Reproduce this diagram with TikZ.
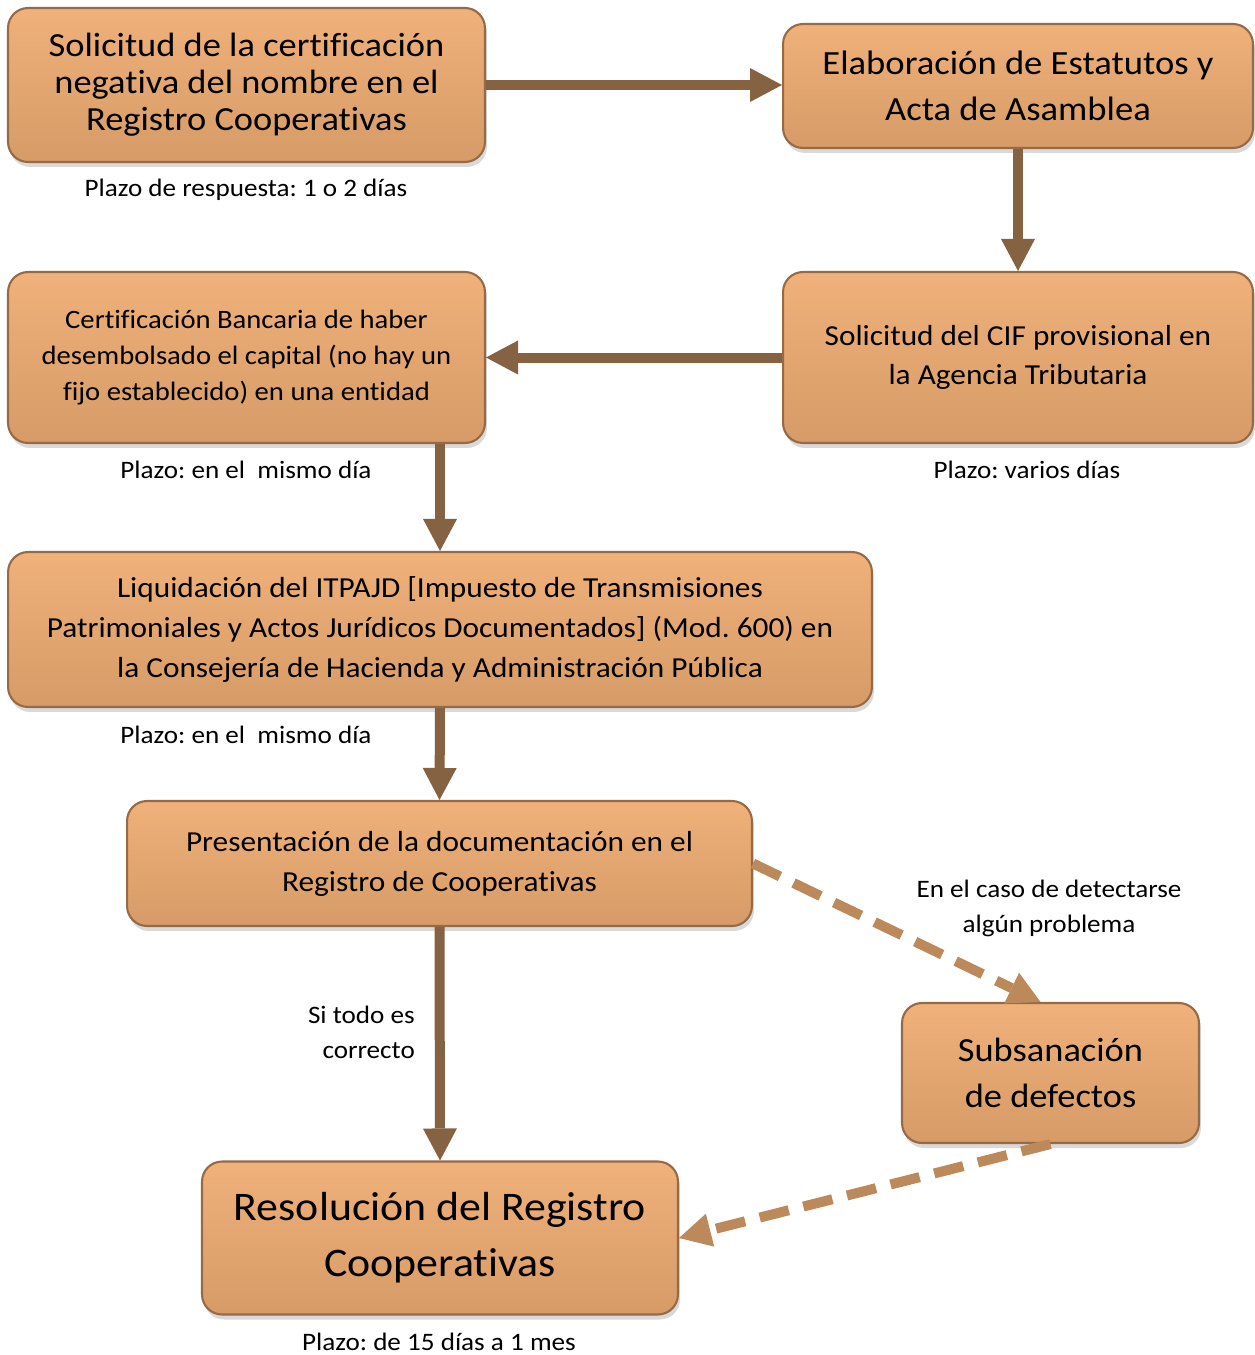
\documentclass[tikz,border=0pt]{standalone}
\usepackage{fontspec}
\setmainfont{Carlito}[FakeStretch=1.08, Ligatures=NoCommon]
\usetikzlibrary{positioning,shadows,arrows.meta}
\frenchspacing

\definecolor{boxtop}{RGB}{240,177,122}
\definecolor{boxbot}{RGB}{214,155,103}
\definecolor{boxline}{RGB}{150,106,70}
\definecolor{flowbrown}{RGB}{133,98,66}
\definecolor{retrybrown}{RGB}{188,137,90}

\tikzset{
  stepbox/.style={rectangle, rounded corners=0.4cm, draw=boxline, line width=1.2pt,
    top color=boxtop, bottom color=boxbot, align=center, inner sep=0pt,
    drop shadow={opacity=0.3, shadow xshift=0.04cm, shadow yshift=-0.1cm}},
  flow/.style={draw=flowbrown, line width=0.2cm,
    -{Triangle[width=0.68cm, length=0.64cm, line width=0pt]}},
  retry/.style={draw=retrybrown, line width=0.2cm, dash pattern=on 0.6cm off 0.3cm,
    -{Triangle[width=0.68cm, length=0.64cm, line width=0pt]}},
  note/.style={font=\fontsize{14.3}{20}\selectfont, align=center},
}

\begin{document}
\begin{tikzpicture}[x=0.02cm, y=-0.02cm]
    % Page frame (pixel grid of the reference)
    \useasboundingbox (0,0) rectangle (1254,1355);

    % Steps
    \node[stepbox, minimum width=9.54cm, minimum height=3.08cm, font=\fontsize{19.2}{21}\selectfont]
        (nombre) at (246.5,85) {Solicitud de la certificación\\negativa del nombre en el\\Registro Cooperativas};
    \node[stepbox, minimum width=9.4cm, minimum height=2.48cm, font=\fontsize{19.3}{26}\selectfont]
        (estatutos) at (1018,86) {Elaboración de Estatutos y\\Acta de Asamblea};
    \node[stepbox, minimum width=9.4cm, minimum height=3.42cm, font=\fontsize{16.5}{22}\selectfont]
        (cif) at (1018,357.5) {Solicitud del CIF provisional en\\la Agencia Tributaria};
    \node[stepbox, minimum width=9.54cm, minimum height=3.42cm, font=\fontsize{15.1}{20.5}\selectfont]
        (banco) at (246.5,357.5) {Certificación Bancaria de haber\\desembolsado el capital (no hay un\\fijo establecido) en una entidad};
    \node[stepbox, minimum width=17.28cm, minimum height=3.1cm, font=\fontsize{16.5}{22.8}\selectfont]
        (itpajd) at (440,629.5) {Liquidación del ITPAJD [Impuesto de Transmisiones\\Patrimoniales y Actos Jurídicos Documentados] (Mod. 600) en\\la Consejería de Hacienda y Administración Pública};
    \node[stepbox, minimum width=12.5cm, minimum height=2.5cm, font=\fontsize{16.5}{22.8}\selectfont]
        (presenta) at (439.5,863.5) {Presentación de la documentación en el\\Registro de Cooperativas};
    \node[stepbox, minimum width=5.94cm, minimum height=2.8cm, font=\fontsize{19.2}{26}\selectfont]
        (subsana) at (1050.5,1073) {Subsanación\\de defectos};
    \node[stepbox, minimum width=9.52cm, minimum height=3.06cm, font=\fontsize{23.1}{32}\selectfont]
        (resol) at (440,1238) {Resolución del Registro\\Cooperativas};

    % Deadlines and conditions
    \node[note] (plazo1) at (246,190) {Plazo de respuesta: 1 o 2 días};
    \node[note] (plazo2) at (246,470) {Plazo: en el\ \ mismo día};
    \node[note] (plazo3) at (1027,470) {Plazo: varios días};
    \node[note] (plazo4) at (246,735) {Plazo: en el\ \ mismo día};
    \node[note] (plazo5) at (439,1342) {Plazo: de 15 días a 1 mes};
    \node[note] (problema) at (1049,908) {En el caso de detectarse\\algún problema};
    \node[note, align=right, anchor=east] (correcto) at (421,1032) {Si todo es\\correcto};

    % Main flow
    \draw[flow] (nombre.east) -- (nombre.east -| estatutos.west);
    \draw[flow] (estatutos.south) -- (cif.north);
    \draw[flow] (cif.west) -- (banco.east);
    \draw[flow] (itpajd.north |- banco.south) -- (itpajd.north);
    \draw[flow] (itpajd.south) -- (presenta.north);
    \draw[flow] (presenta.south) -- (resol.north);

    % Correction loop
    \draw[retry] (presenta.east) -- ([xshift=-0.2cm]subsana.north);
    \draw[retry] (subsana.south) -- (resol.east);
\end{tikzpicture}
\end{document}
